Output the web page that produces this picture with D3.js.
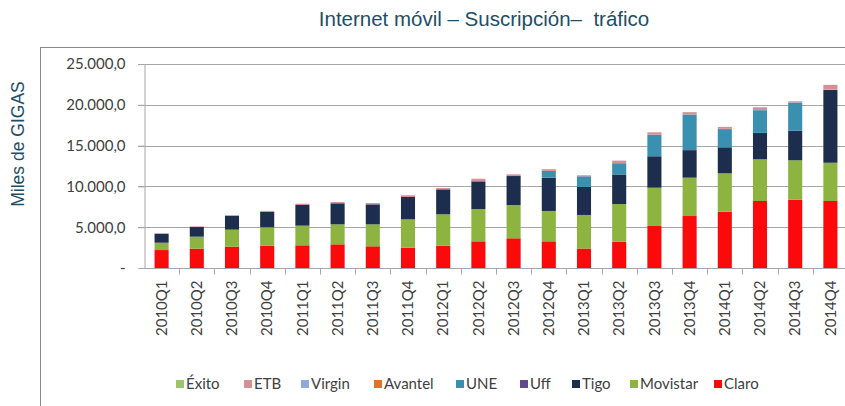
<!DOCTYPE html>
<html>
<head>
<meta charset="utf-8">
<script src="https://cdn.jsdelivr.net/npm/d3@7"></script>
<style>
  body { margin: 0; background: #fff; }
  svg { display: block; }
</style>
</head>
<body>
<div id="chart"></div>
<script>
// Data (miles de gigas por trimestre)
const quarters = ['2010Q1','2010Q2','2010Q3','2010Q4','2011Q1','2011Q2','2011Q3','2011Q4',
  '2012Q1','2012Q2','2012Q3','2012Q4','2013Q1','2013Q2','2013Q3','2013Q4',
  '2014Q1','2014Q2','2014Q3','2014Q4']
const claro    = [2200,2370,2610,2740,2780,2900,2660,2490,2730,3270,3640,3270,2390,3230,5150,6370,6900,8210,8370,8210]
const movistar = [900,1470,2090,2250,2410,2450,2690,3470,3850,3960,4080,3720,4110,4610,4690,4700,4700,5110,4830,4690]
const tigo     = [1100,1180,1700,1910,2530,2580,2450,2740,3060,3390,3550,4080,3430,3620,3850,3370,3190,3220,3590,8910]
const uff      = [0,0,0,0,0,0,0,0,0,0,0,10,10,10,20,20,20,20,20,20]
const une      = [0,0,0,0,0,0,0,0,0,0,0,820,1300,1370,2600,4350,2210,2780,3470,0]
const avantel  = [0,0,0,0,0,0,0,0,0,0,0,0,0,0,10,10,10,10,10,10]
const virgin   = [0,0,0,0,0,0,0,0,0,0,0,0,0,0,10,20,20,20,20,20]
const etb      = [50,80,80,100,160,160,160,210,160,320,210,210,120,320,300,260,240,330,120,580]
const exito    = [0,0,0,0,0,0,0,0,0,0,0,0,0,0,0,10,10,10,10,10]
const yTicks = [0, 5000, 10000, 15000, 20000, 25000]

// stack order bottom -> top
const keys = ['Claro','Movistar','Tigo','Uff','UNE','Avantel','Virgin','ETB','Éxito']
const series = {Claro: claro, Movistar: movistar, Tigo: tigo, Uff: uff, UNE: une,
  Avantel: avantel, Virgin: virgin, ETB: etb, 'Éxito': exito}
const colors = {Claro: '#fa0a0a', Movistar: '#8db441', Tigo: '#1c2d4e', Uff: '#604a8b',
  UNE: '#3a90ae', Avantel: '#e0732a', Virgin: '#8ea9db', ETB: '#d68f95', 'Éxito': '#9fc46e'}
const legendOrder = ['Éxito','ETB','Virgin','Avantel','UNE','Uff','Tigo','Movistar','Claro']

const rows = quarters.map((q, i) => {
  const r = {q}
  keys.forEach(k => r[k] = series[k][i])
  return r
})

const width = 845, height = 406
const svg = d3.select('#chart').append('svg')
  .attr('width', width).attr('height', height)

// Frame
svg.append('rect')
  .attr('x', 40.5).attr('y', 47.5)
  .attr('width', 820).attr('height', 380)
  .attr('fill', 'none').attr('stroke', '#8a8a8a')

// Title
svg.append('text')
  .attr('x', 484).attr('y', 26)
  .attr('text-anchor', 'middle')
  .attr('font-family', 'Liberation Sans, Arial, sans-serif')
  .attr('font-size', 20.5)
  .attr('fill', '#1e4e66')
  .style('white-space', 'pre')
  .text('Internet móvil – Suscripción–  tráfico')

// Y label
svg.append('text')
  .attr('transform', 'translate(24,144) rotate(-90)')
  .attr('text-anchor', 'middle')
  .attr('font-family', 'Liberation Sans, Arial, sans-serif')
  .attr('font-size', 17.5)
  .attr('fill', '#1e4e66')
  .text('Miles de GIGAS')

// Scales
const x = d3.scaleBand()
  .domain(quarters)
  .range([144, 848])
  .paddingInner(0.6)
  .paddingOuter(0.3)

const y = d3.scaleLinear()
  .domain([0, 25000])
  .range([268, 64])

// Gridlines
svg.append('g')
  .selectAll('line')
  .data(yTicks.filter(d => d > 0))
  .join('line')
  .attr('x1', 138).attr('x2', 848)
  .attr('y1', d => Math.round(y(d)) + 0.5)
  .attr('y2', d => Math.round(y(d)) + 0.5)
  .attr('stroke', '#a6a6a6')

// Y axis
const fmt = d => d === 0 ? '-' : d3.format(',.1f')(d).replace(/,/g, '#').replace('.', ',').replace(/#/g, '.')
const yAxis = d3.axisLeft(y).tickValues(yTicks).tickSize(6).tickPadding(13).tickFormat(fmt)
const yg = svg.append('g')
  .attr('transform', 'translate(144.5,0)')
  .call(yAxis)
yg.select('.domain').attr('stroke', '#a6a6a6')
yg.selectAll('.tick line').attr('stroke', '#a6a6a6')
yg.selectAll('.tick text')
  .attr('font-family', 'Lato, sans-serif')
  .attr('font-size', 15)
  .attr('fill', '#404040')

// Bars
const stacked = d3.stack().keys(keys)(rows)
svg.append('g')
  .selectAll('g')
  .data(stacked)
  .join('g')
  .attr('fill', d => colors[d.key])
  .selectAll('rect')
  .data(d => d)
  .join('rect')
  .attr('x', d => x(d.data.q))
  .attr('width', x.bandwidth())
  .attr('y', d => y(d[1]))
  .attr('height', d => y(d[0]) - y(d[1]))

// X axis
const xAxis = d3.axisBottom(x).tickSize(0).tickPadding(0)
const xg = svg.append('g')
  .attr('transform', 'translate(0,268.5)')
  .call(xAxis)
xg.select('.domain').attr('stroke', '#a6a6a6').attr('d', 'M144,0H848')
xg.selectAll('.tick text')
  .attr('transform', 'rotate(-90)')
  .attr('text-anchor', 'end')
  .attr('dy', '0.35em')
  .attr('x', -12)
  .attr('y', 0)
  .attr('font-family', 'Lato, sans-serif')
  .attr('font-size', 15)
  .attr('fill', '#404040')

// tick marks between categories
const step = x.step()
xg.append('g')
  .selectAll('line')
  .data(quarters)
  .join('line')
  .attr('x1', d => Math.round(x(d) + x.bandwidth() / 2 + step / 2) + 0.5)
  .attr('x2', d => Math.round(x(d) + x.bandwidth() / 2 + step / 2) + 0.5)
  .attr('y1', 0).attr('y2', 6)
  .attr('stroke', '#a6a6a6')

// Legend
const legendX = [176, 244, 301, 374, 456, 520, 572, 630, 714]
const lg = svg.append('g')
  .selectAll('g')
  .data(legendOrder)
  .join('g')
  .attr('transform', (d, i) => `translate(${legendX[i]},384)`)
lg.append('rect')
  .attr('x', 0).attr('y', -4)
  .attr('width', 8).attr('height', 8)
  .attr('fill', d => colors[d])
lg.append('text')
  .attr('x', 10).attr('y', 0)
  .attr('dy', '0.35em')
  .attr('font-family', 'Lato, sans-serif')
  .attr('font-size', 15)
  .attr('fill', '#404040')
  .text(d => d)
</script>
</body>
</html>
